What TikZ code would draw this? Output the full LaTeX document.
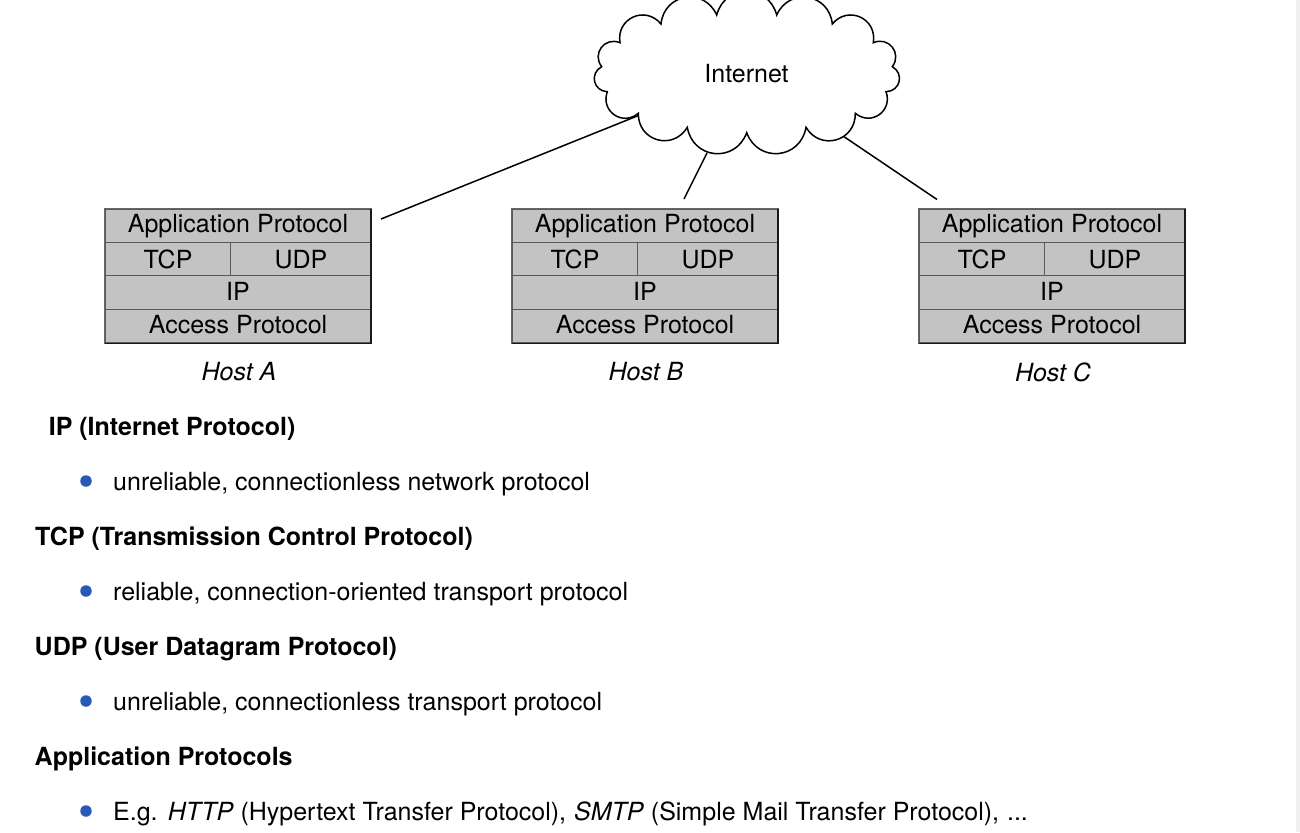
\documentclass[tikz,border=0pt]{standalone}
\usepackage{fontspec}
\setmainfont{TeX Gyre Heros}
\tikzset{
  cell/.style={draw=black!65,line width=0.9pt,fill=cellgray,minimum height=33.3pt,inner sep=0pt,text=black,font=\fsz},
  frameedge/.style={draw=black!60,line width=1pt},
  framedark/.style={draw=black!90,line width=1.3pt},
  lobe/.style={bend right=75,looseness=1.4},
  wire/.style={draw=black,line width=1.5pt},
  heading/.style={anchor=base west,inner sep=0pt,font=\fsz\bfseries},
  itemtext/.style={anchor=base west,inner sep=0pt,font=\fsz},
  dot/.style={circle,fill=bulletblue,inner sep=0pt,minimum size=11.5pt},
  hostlabel/.style={anchor=base,inner sep=0pt,font=\fsz\itshape},
}
\definecolor{cellgray}{HTML}{C3C3C3}
\definecolor{bulletblue}{HTML}{2859B5}
\definecolor{stripgray}{HTML}{F0F0F0}
\newcommand{\fsz}{\fontsize{25pt}{28pt}\selectfont}
\newcommand{\hoststack}[3]{% prefix, left x, label
  \begin{scope}[shift={(#2,0)}]
    \node[cell,minimum width=265.6pt,anchor=north west] (#1app) at (0,208.7) {};
    \node[cell,minimum width=125.6pt,anchor=north west] (#1tcp) at (0,242) {};
    \node[cell,minimum width=140pt,anchor=north west] (#1udp) at (125.6,242) {};
    \node[cell,minimum width=265.6pt,anchor=north west] (#1ip) at (0,275.3) {};
    \node[cell,minimum width=265.6pt,anchor=north west] (#1acc) at (0,309.1) {};
    \draw[frameedge] (#1app.north west) rectangle (#1acc.south east);
    \draw[framedark] (#1acc.south west) -- (#1acc.south east) -- (#1app.north east);
    \node[anchor=base,inner sep=0pt,font=\fsz] (#1appt) at (133.5,232.5) {Application Protocol};
    \node[anchor=base,inner sep=0pt,font=\fsz] (#1tcpt) at (63.5,268.5) {TCP};
    \node[anchor=base,inner sep=0pt,font=\fsz] (#1udpt) at (196.5,268) {UDP};
    \node[anchor=base,inner sep=0pt,font=\fsz] (#1ipt) at (133.5,300) {IP};
    \node[anchor=base,inner sep=0pt,font=\fsz] (#1acct) at (133.5,333.5) {Access Protocol};
    \node[hostlabel] (#1lab) at (134.5,#3) {Host \MakeUppercase{#1}};
  \end{scope}
}
\begin{document}
\begin{tikzpicture}[x=1pt,y=-1pt]
\useasboundingbox (0,0) rectangle (1300,832);
\clip (0,0) rectangle (1300,832);
\fill[stripgray] (1296,0) rectangle (1300,832);
% connectors
\coordinate (ca) at (638.5,115.5);
\coordinate (cb) at (707,153);
\coordinate (cc) at (843,136);
\coordinate (ea) at (381,219);
\coordinate (eb) at (684,199);
\coordinate (ec) at (937,199.5);
\draw[wire] (ea) -- (ca);
\draw[wire] (eb) -- (cb);
\draw[wire] (ec) -- (cc);
% cloud
\draw[wire,fill=white,line join=miter]
  (638.3,113.3) to[lobe] (687.3,127.3) to[lobe] (746.7,132.7)
  to[lobe] (806,127.3) to[lobe] (855.3,113.3) to[lobe] (886,91.7)
  to[lobe] (892.3,66.7) to[lobe] (873.3,42.7) to[lobe] (832.3,24)
  to[lobe] (776.7,15) to[lobe] (716.7,15) to[lobe] (661,24)
  to[lobe] (620,42.7) to[lobe] (601.7,66.7) to[lobe] (607.3,91.7)
  to[lobe] (638.3,113.3) -- cycle;
\node[anchor=base,inner sep=0pt,font=\fsz] (inet) at (746.5,83) {Internet};
\hoststack{a}{104.5}{380}
\hoststack{b}{511.5}{380}
\hoststack{c}{918.5}{381}
% list
\node[heading] (h1) at (48.6,435) {IP (Internet Protocol)};
\node[dot] (d1) at (86,481) {};
\node[itemtext] (t1) at (113,490) {unreliable, connectionless network protocol};
\node[heading] (h2) at (35,545) {TCP (Transmission Control Protocol)};
\node[dot] (d2) at (86,591) {};
\node[itemtext] (t2) at (113,600) {reliable, connection-oriented transport protocol};
\node[heading] (h3) at (34.5,655) {UDP (User Datagram Protocol)};
\node[dot] (d3) at (86,701) {};
\node[itemtext] (t3) at (113,710) {unreliable, connectionless transport protocol};
\node[heading] (h4) at (34.5,765) {Application Protocols};
\node[dot] (d4) at (86,811) {};
\node[itemtext] (t4) at (113,820) {E.g.\hspace{1pt} \textit{HTTP} (Hypertext Transfer Protocol),\hspace{1pt} \textit{SMTP} (Simple Mail Transfer Protocol),\hspace{1pt} ...};
\end{tikzpicture}
\end{document}
